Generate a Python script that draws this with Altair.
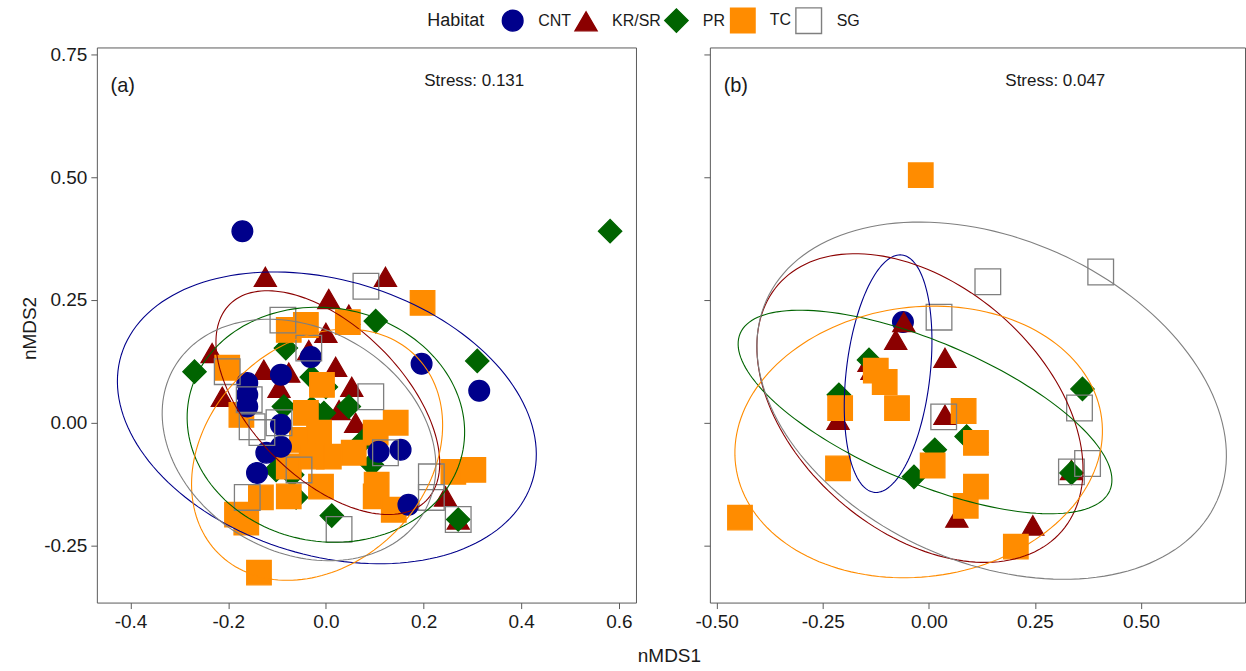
import math

import altair as alt
import pandas as pd

# Habitat styling
HABITATS = ["CNT", "KR/SR", "PR", "TC", "SG"]
STROKES = ["#00008B", "#8B0000", "#006400", "#FF8C00", "#7F7F7F"]
FILLS = ["#00008B", "#8B0000", "#006400", "#FF8C00", "transparent"]
SHAPES = ["circle", "triangle-up", "diamond", "square", "square"]
SIZES = [430, 660, 500, 430, 420]

PANEL_TAGS = ["(a)", "(b)"]
STRESS = [0.131, 0.047]

# ---- panel (a): nMDS scores per habitat ----
A_KR_X = [-0.124, 0.006, 0.122, -0.233, -0.212, 0.047, 0.000, -0.035, -0.127,
          -0.076, -0.096, 0.020, 0.053, 0.027, 0.061, -0.004, 0.245, 0.271]
A_KR_Y = [0.297, 0.252, 0.297, 0.142, 0.053, 0.220, 0.183, 0.148, 0.108,
          0.102, 0.071, 0.114, 0.073, 0.026, 0.000, -0.045, -0.150, -0.197]
A_PR_X = [0.582, -0.269, -0.082, 0.102, 0.310, -0.029, 0.000, -0.086, -0.029,
          -0.004, 0.047, 0.078, 0.094, -0.061, 0.012, 0.271, -0.102, -0.069]
A_PR_Y = [0.390, 0.104, 0.152, 0.207, 0.126, 0.093, 0.073, 0.033, 0.030,
          0.020, 0.033, -0.035, -0.085, -0.152, -0.189, -0.197, -0.096, -0.106]
A_TC_X = [0.198, 0.045, -0.202, -0.041, -0.076, -0.173, -0.041, -0.008, -0.049,
          -0.014, 0.006, 0.057, 0.102, 0.143, -0.076, -0.010, -0.076, -0.133,
          -0.182, -0.163, 0.104, 0.102, 0.139, 0.261, 0.302, -0.137, -0.029]
A_TC_Y = [0.244, 0.205, 0.112, 0.199, 0.189, 0.016, 0.020, 0.077, -0.035,
          -0.020, -0.069, -0.061, -0.020, 0.000, -0.089, -0.130, -0.150, -0.152,
          -0.187, -0.203, -0.126, -0.150, -0.177, -0.100, -0.096, -0.305, -0.069]
A_CNT_X = [-0.171, -0.031, 0.196, 0.314, -0.092, -0.161, -0.161, -0.161,
           -0.092, -0.092, -0.122, -0.141, 0.108, 0.153, 0.169]
A_CNT_Y = [0.390, 0.134, 0.120, 0.065, 0.098, 0.081, 0.057, 0.033,
           -0.004, -0.049, -0.061, -0.102, -0.059, -0.055, -0.167]
A_SG_X = [0.082, -0.088, -0.035, -0.202, 0.092, -0.157, -0.151, -0.096,
          -0.131, -0.055, -0.161, 0.027, 0.216, 0.216, 0.271, 0.122]
A_SG_Y = [0.278, 0.209, 0.152, 0.104, 0.053, 0.047, -0.008, 0.000,
          -0.020, -0.096, -0.152, -0.217, -0.110, -0.152, -0.197, -0.061]

# ---- panel (b): nMDS scores per habitat ----
B_CNT_X = [-0.061]
B_CNT_Y = [0.205]
B_KR_X = [-0.059, -0.078, 0.038, -0.214, -0.134, -0.141, -0.075, 0.038,
          -0.445, 0.066, 0.113, 0.336, 0.245]
B_KR_Y = [0.205, 0.169, 0.132, 0.006, 0.108, 0.124, 0.033, 0.016,
          -0.191, -0.193, -0.041, -0.096, -0.209]
B_PR_X = [-0.141, -0.212, 0.089, 0.014, -0.035, 0.362, 0.336]
B_PR_Y = [0.128, 0.057, -0.028, -0.055, -0.110, 0.069, -0.102]
B_TC_X = [-0.019, -0.125, -0.104, -0.209, -0.075, -0.214, -0.445, 0.082,
          0.111, 0.009, 0.111, 0.087, 0.205]
B_TC_Y = [0.504, 0.106, 0.083, 0.030, 0.030, -0.093, -0.193, 0.024,
          -0.041, -0.087, -0.130, -0.169, -0.252]
B_SG_X = [0.139, 0.405, 0.024, 0.035, 0.355, 0.374, 0.336]
B_SG_Y = [0.287, 0.307, 0.215, 0.012, 0.030, -0.083, -0.100]

# Group ellipses: centre and two conjugate semi-diameters (u, v) in data units
ELL_PANEL = ["a"] * 5 + ["b"] * 5
ELL_HAB = HABITATS + HABITATS
ELL_CX = [0.002, 0.004, 0.000, -0.018, -0.055, -0.096, -0.021, -0.009, -0.024, 0.148]
ELL_CY = [0.010, 0.041, -0.004, -0.065, -0.035, 0.100, 0.030, 0.022, -0.039, 0.045]
ELL_UX = [0.421, 0.201, 0.281, 0.202, 0.256, 0.0324, 0.334, 0.4356, 0.4311, 0.531]
ELL_UY = [-0.128, -0.200, -0.050, 0.201, -0.147, 0.2416, -0.251, -0.1597, 0.0484, -0.204]
ELL_VX = [0.082, 0.110, 0.042, -0.159, 0.114, -0.0981, 0.190, 0.0649, -0.0410, 0.155]
ELL_VY = [0.268, 0.109, 0.234, 0.158, 0.197, 0.0098, 0.189, 0.1320, 0.2722, 0.301]

Y_DOMAIN = [-0.366, 0.764]
Y_TICKS = [-0.25, 0.0, 0.25, 0.5, 0.75]
A_DOMAIN = [-0.469, 0.635]
A_TICKS = [-0.4, -0.2, 0.0, 0.2, 0.4, 0.6]
B_DOMAIN = [-0.516, 0.745]
B_TICKS = [-0.5, -0.25, 0.0, 0.25, 0.5]

MINUS_FIX = "replace(datum.label, '\u2212', '-')"


def scores(panel, groups):
    rows = []
    for hab, xs, ys in groups:
        for x, y in zip(xs, ys):
            rows.append({"panel": panel, "habitat": hab, "x": x, "y": y})
    return rows


points = pd.DataFrame(
    scores("a", [("KR/SR", A_KR_X, A_KR_Y), ("PR", A_PR_X, A_PR_Y),
                 ("TC", A_TC_X, A_TC_Y), ("CNT", A_CNT_X, A_CNT_Y),
                 ("SG", A_SG_X, A_SG_Y)])
    + scores("b", [("CNT", B_CNT_X, B_CNT_Y), ("KR/SR", B_KR_X, B_KR_Y),
                   ("PR", B_PR_X, B_PR_Y), ("TC", B_TC_X, B_TC_Y),
                   ("SG", B_SG_X, B_SG_Y)])
)

ell_rows = []
N_STEPS = 160
for i in range(len(ELL_HAB)):
    for k in range(N_STEPS + 1):
        t = 2 * math.pi * k / N_STEPS
        ell_rows.append({
            "panel": ELL_PANEL[i], "habitat": ELL_HAB[i], "k": k,
            "x": ELL_CX[i] + ELL_UX[i] * math.cos(t) + ELL_VX[i] * math.sin(t),
            "y": ELL_CY[i] + ELL_UY[i] * math.cos(t) + ELL_VY[i] * math.sin(t),
        })
ellipses = pd.DataFrame(ell_rows)

labels = pd.DataFrame({
    "panel": ["a", "b"],
    "tag": PANEL_TAGS,
    "stress": [f"Stress: {s:.3f}" for s in STRESS],
})

legend = alt.Legend(
    title="Habitat", orient="none", direction="horizontal", titleOrient="left",
    legendX=331, legendY=-41, titleFontSize=18, titleFont="Liberation Sans",
    titleFontWeight="normal", titleColor="#1a1a1a", titlePadding=16,
    labelFontSize=16, labelFont="Liberation Sans", labelColor="#1a1a1a",
    labelOffset=14, columnPadding=1, symbolStrokeWidth=1.4,
)

hab_shape = alt.Shape("habitat:N", scale=alt.Scale(domain=HABITATS, range=SHAPES), legend=legend)
hab_stroke = alt.Color("habitat:N", scale=alt.Scale(domain=HABITATS, range=STROKES), legend=legend)
hab_fill = alt.Fill("habitat:N", scale=alt.Scale(domain=HABITATS, range=FILLS), legend=legend)
hab_size = alt.Size("habitat:N", scale=alt.Scale(domain=HABITATS, range=SIZES), legend=legend)


def panel(tag, xdom, xticks, xfmt, first):
    xaxis = alt.Axis(values=xticks, format=xfmt, labelExpr=MINUS_FIX,
                     title="nMDS1" if first else None,
                     titleX=573, titleY=44)
    if first:
        yaxis = alt.Axis(values=Y_TICKS, format=".2f", labelExpr=MINUS_FIX,
                         title="nMDS2", titleX=-57, titleY=281)
    else:
        yaxis = alt.Axis(values=Y_TICKS, labels=False, title=None)
    x = alt.X("x:Q", scale=alt.Scale(domain=xdom, nice=False, zero=False), axis=xaxis)
    y = alt.Y("y:Q", scale=alt.Scale(domain=Y_DOMAIN, nice=False, zero=False), axis=yaxis)

    pts = alt.Chart(points[points.panel == tag]).mark_point(
        opacity=1, strokeWidth=1.3, clip=True
    ).encode(x=x, y=y, shape=hab_shape, color=hab_stroke, fill=hab_fill, size=hab_size)

    ell = alt.Chart(ellipses[ellipses.panel == tag]).mark_line(
        strokeWidth=1.1, clip=True
    ).encode(
        x=x, y=y,
        color=alt.Color("habitat:N", scale=alt.Scale(domain=HABITATS, range=STROKES), legend=legend),
        detail="habitat:N", order="k:Q",
    )

    lab = labels[labels.panel == tag]
    tag_text = alt.Chart(lab).mark_text(
        font="Liberation Sans", fontSize=20, color="#1a1a1a", align="center", baseline="middle"
    ).encode(x=alt.value(26), y=alt.value(39), text="tag:N")
    stress_text = alt.Chart(lab).mark_text(
        font="Liberation Sans", fontSize=17, color="#1a1a1a", align="center", baseline="middle"
    ).encode(x=alt.value(378 if first else 346), y=alt.value(34), text="stress:N")

    return alt.layer(pts, ell, tag_text, stress_text).properties(
        width=540 if first else 536, height=556
    )


panel_a = panel("a", A_DOMAIN, A_TICKS, ".1f", True)
panel_b = panel("b", B_DOMAIN, B_TICKS, ".2f", False)

chart = alt.hconcat(panel_a, panel_b, spacing=74, bounds="flush").resolve_scale(
    x="independent"
).properties(
    padding={"left": 20, "top": 6, "right": 0, "bottom": 2},
    background="white",
).configure_view(
    stroke="#5a5a5a", strokeWidth=1
).configure_axis(
    domain=False, grid=False, tickColor="#5a5a5a", tickSize=6, tickWidth=1,
    labelFont="Liberation Sans", labelFontSize=19, labelColor="#1a1a1a", labelPadding=4,
    titleFont="Liberation Sans", titleFontSize=19, titleFontWeight="normal", titleColor="#1a1a1a",
)

chart.save("out.html", embed_options={"renderer": "svg", "actions": False})
